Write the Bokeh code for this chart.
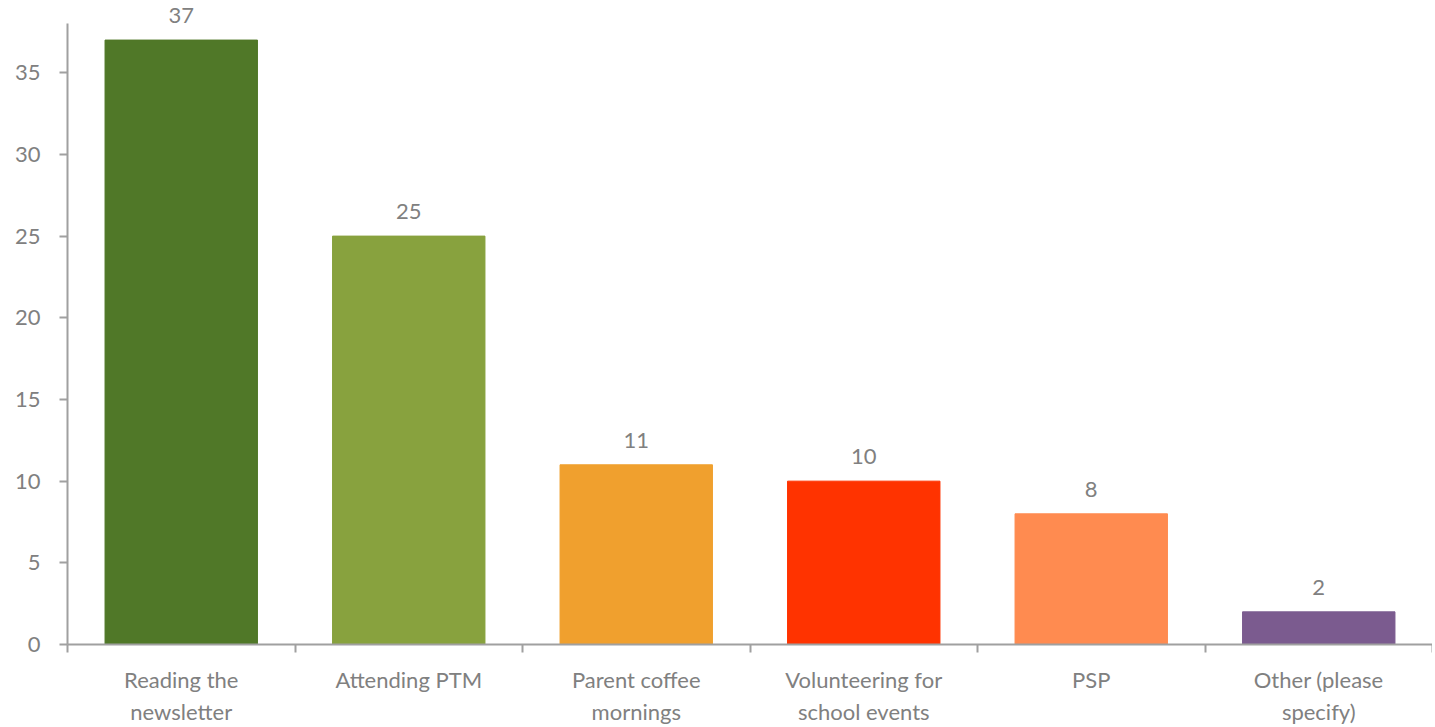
from bokeh.plotting import figure
from bokeh.models import ColumnDataSource, FixedTicker, Range1d, LabelSet
from bokeh.core.properties import value
from bokeh.embed import file_html
from bokeh.resources import INLINE

categories = ["Reading the\nnewsletter", "Attending PTM", "Parent coffee\nmornings",
              "Volunteering for\nschool events", "PSP", "Other (please\nspecify)"]
values = [37, 25, 11, 10, 8, 2]
y_ticks = [0, 5, 10, 15, 20, 25, 30, 35]
y_axis_max = 38

colors = ["#507828", "#88a23e", "#f0a02e", "#ff3300", "#ff8b50", "#7b5b8f"]
FONT = "Lato"
FSIZE = "22px"
GREY = "#808080"
AXIS = "#a0a0a0"

n = len(categories)
xs = [i + 0.5 for i in range(n)]
src = ColumnDataSource(dict(x=xs, top=values, color=colors,
                            lab=[str(v) for v in values]))

p = figure(frame_width=1365, frame_height=642, output_backend="svg",
           toolbar_location=None,
           x_range=Range1d(0, n), y_range=Range1d(0, 39.3),
           min_border_left=67, min_border_right=0, min_border_top=2,
           min_border_bottom=76)
p.outline_line_color = None
p.grid.grid_line_color = None
p.background_fill_color = "white"
p.border_fill_color = "white"

p.vbar(x="x", top="top", width=0.67, color="color", source=src)

labels = LabelSet(x="x", y="top", text="lab", source=src, text_align="center",
                  text_baseline="alphabetic", y_offset=17, text_color=GREY,
                  text_font=value(FONT), text_font_size=FSIZE)
p.add_layout(labels)

# y axis
p.yaxis.bounds = (0, y_axis_max)
p.yaxis.ticker = FixedTicker(ticks=y_ticks)
p.yaxis.minor_tick_line_color = None
p.yaxis.axis_line_color = AXIS
p.yaxis.axis_line_width = 2
p.yaxis.major_tick_line_color = AXIS
p.yaxis.major_tick_line_width = 2
p.yaxis.major_tick_out = 8
p.yaxis.major_tick_in = 0
p.yaxis.major_label_standoff = 19
p.yaxis.major_label_text_color = GREY
p.yaxis.major_label_text_font = FONT
p.yaxis.major_label_text_font_size = FSIZE

# x axis: tick marks at category boundaries, labels at centres
p.xaxis.ticker = FixedTicker(ticks=xs, minor_ticks=list(range(n + 1)))
p.xaxis.major_label_overrides = {x: c for x, c in zip(xs, categories)}
p.xaxis.major_tick_line_color = None
p.xaxis.major_tick_out = 8
p.xaxis.major_tick_in = 0
p.xaxis.minor_tick_line_color = AXIS
p.xaxis.minor_tick_line_width = 2
p.xaxis.minor_tick_out = 8
p.xaxis.minor_tick_in = 0
p.xaxis.axis_line_color = AXIS
p.xaxis.axis_line_width = 2
p.xaxis.major_label_standoff = 13
p.xaxis.major_label_text_color = GREY
p.xaxis.major_label_text_font = FONT
p.xaxis.major_label_text_font_size = FSIZE
p.xaxis.major_label_text_line_height = 1.2

open("out.html", "w").write(file_html(p, INLINE))
